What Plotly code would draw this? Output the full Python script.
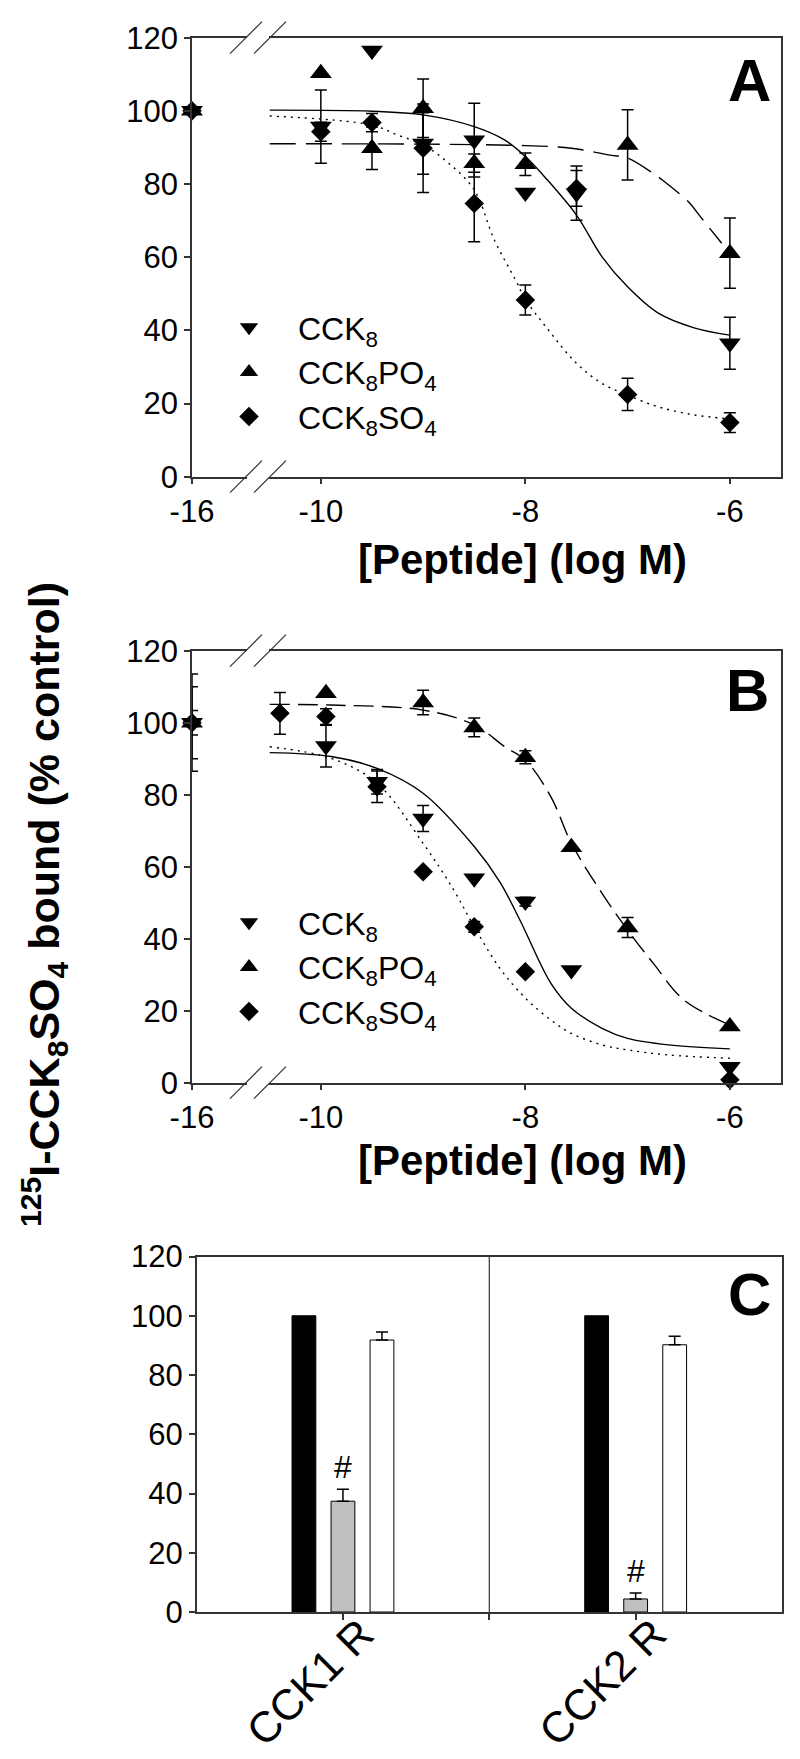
import plotly.graph_objects as go

# page is 800x1759; the browser's default 8px body margin offsets the figure
PAGE_W, PAGE_H = 800, 1759
OFF = 8
W, H = PAGE_W - OFF, PAGE_H - OFF

# ---------------- data ----------------
x_tick_values = [-16, -10, -8, -6]
x_tick_labels = ['-16', '-10', '-8', '-6']
y_ticks = [0, 20, 40, 60, 80, 100, 120]
series_names = ['CCK<sub>8</sub>', 'CCK<sub>8</sub>PO<sub>4</sub>', 'CCK<sub>8</sub>SO<sub>4</sub>']

# Panel A - measured points (log M, % control, SEM)
a_cck8_x = [-16, -10, -9.5, -9, -8.5, -8, -7.5, -6]
a_cck8_y = [100, 95.7, 116.5, 91.1, 92.0, 77.7, 77.5, 36.5]
a_cck8_e = [0, 10.0, 0, 8.4, 10.1, 0, 7.4, 7.1]
a_po4_x = [-16, -10, -9.5, -9, -8.5, -8, -7, -6]
a_po4_y = [100, 110.3, 89.8, 100.7, 85.7, 85.4, 90.7, 61.1]
a_po4_e = [0, 0, 5.8, 8.0, 2.5, 3.1, 9.6, 9.6]
a_so4_x = [-16, -10, -9.5, -9, -8.5, -8, -7.5, -7, -6]
a_so4_y = [100, 94.3, 96.8, 89.8, 74.7, 48.3, 78.8, 22.5, 14.8]
a_so4_e = [0, 2.6, 2.5, 12.1, 10.5, 4.1, 4.9, 4.4, 2.7]

# Panel A - fitted curves
a_fit_cck8_x = [-10.5, -9.5, -9.0, -8.5, -8.2, -8.0, -7.8, -7.5, -7.25, -7.0, -6.7, -6.35, -6.0]
a_fit_cck8_y = [100.2, 99.9, 98.9, 95.7, 92.0, 87.5, 81.6, 71.5, 60.1, 51.9, 44.7, 40.7, 38.7]
a_fit_po4_x = [-10.5, -9.0, -8.0, -7.55, -7.17, -7.0, -6.75, -6.66, -6.39, -6.3, -6.08]
a_fit_po4_y = [91.0, 90.9, 90.5, 89.8, 87.9, 87.1, 82.9, 81.1, 74.7, 71.5, 63.8]
a_fit_so4_x = [-10.5, -9.5, -9.25, -9.0, -8.75, -8.5, -8.3, -8.1, -8.0, -7.8, -7.5, -7.25, -7.0, -6.7, -6.35, -6.0]
a_fit_so4_y = [98.6, 96.1, 93.4, 90.7, 85.7, 78.4, 64.5, 54.0, 48.5, 41.0, 31.0, 25.5, 22.3, 19.1, 16.9, 15.8]

# Panel B - measured points
b_cck8_x = [-16, -9.95, -9.45, -9.0, -8.5, -8.0, -7.55, -6.0]
b_cck8_y = [100, 93.5, 83.6, 73.4, 56.8, 50.3, 31.3, 4.4]
b_cck8_e = [13.5, 5.8, 3.4, 3.6, 0, 1.2, 0, 0]
b_po4_x = [-16, -9.95, -9.0, -8.5, -8.0, -7.55, -7.0, -6.0]
b_po4_y = [100, 108.2, 105.6, 98.7, 90.4, 65.4, 43.1, 15.6]
b_po4_e = [10.0, 0, 3.4, 2.6, 1.8, 0, 2.8, 0]
b_so4_x = [-16, -10.4, -9.95, -9.45, -9.0, -8.5, -8.0, -6.0]
b_so4_y = [100, 102.6, 101.7, 82.2, 58.6, 43.3, 30.8, 0.8]
b_so4_e = [3.4, 5.8, 2.2, 4.4, 0, 1.5, 0, 0]

# Panel B - fitted curves
b_fit_cck8_x = [-10.5, -9.9, -9.45, -9.0, -8.5, -8.25, -8.05, -7.75, -7.55, -7.25, -7.0, -6.6, -6.0]
b_fit_cck8_y = [91.7, 90.6, 87.3, 80.4, 65.6, 55.8, 45.0, 27.6, 20.7, 15.1, 12.3, 10.5, 9.4]
b_fit_po4_x = [-10.5, -9.9, -9.0, -8.5, -8.2, -8.0, -7.75, -7.55, -7.25, -7.0, -6.75, -6.45, -6.0]
b_fit_po4_y = [105.1, 104.9, 103.5, 99.4, 93.3, 89.6, 79.4, 66.5, 52.6, 42.4, 33.2, 23.0, 16.0]
b_fit_so4_x = [-10.5, -9.9, -9.45, -9.0, -8.7, -8.5, -8.25, -8.0, -7.75, -7.55, -7.25, -7.0, -6.6, -6.0]
b_fit_so4_y = [93.3, 90.1, 83.2, 66.5, 53.5, 43.3, 31.8, 23.5, 17.4, 13.7, 10.5, 9.1, 7.7, 6.8]

# Panel C - bars
c_categories = ['CCK1 R', 'CCK2 R']
c_control = [100, 100]
c_cck8 = [37.4, 4.4]
c_cck8_e = [4.0, 2.0]
c_po4 = [91.8, 90.2]
c_po4_e = [2.7, 2.9]
c_marks = ['#', '#']

# ---------------- layout helpers ----------------
FONT_TICK = 'Liberation Sans Narrow, Arial Narrow, Liberation Sans, Arial, sans-serif'
FONT_MAIN = 'Liberation Sans, Arial, sans-serif'
AXC = '#333333'


def xp(px):
    # page pixel -> paper fraction
    return (px - OFF) / W


def yp(py):
    return 1 - (py - OFF) / H


XMIN, XMAX = -11.26, -5.50


def pos(v):
    # broken axis: the control point (-16) sits at the axis origin
    return XMIN if v <= -12 else v


def disp(xs):
    return [pos(v) for v in xs]


fig = go.Figure()

symbols = ['triangle-down', 'triangle-up', 'diamond']
sizes = [19, 19, 15]
dashes = ['solid', '26px,10px', '2px,5px']
dashes_b = ['solid', '20px,8px', '2px,5px']

panels = [
    ('x', 'y', 'legend',
     [(a_cck8_x, a_cck8_y, a_cck8_e), (a_po4_x, a_po4_y, a_po4_e), (a_so4_x, a_so4_y, a_so4_e)],
     [(a_fit_cck8_x, a_fit_cck8_y), (a_fit_po4_x, a_fit_po4_y), (a_fit_so4_x, a_fit_so4_y)], dashes),
    ('x2', 'y2', 'legend2',
     [(b_cck8_x, b_cck8_y, b_cck8_e), (b_po4_x, b_po4_y, b_po4_e), (b_so4_x, b_so4_y, b_so4_e)],
     [(b_fit_cck8_x, b_fit_cck8_y), (b_fit_po4_x, b_fit_po4_y), (b_fit_so4_x, b_fit_so4_y)], dashes_b),
]

for pi, (xa, ya, leg, pts, fits, dsh) in enumerate(panels):
    for i, (fx, fy) in enumerate(fits):
        fig.add_trace(go.Scatter(
            x=fx, y=fy, xaxis=xa, yaxis=ya, mode='lines',
            line=dict(color='black', width=1.4, dash=dsh[i], shape='spline', smoothing=1.0),
            showlegend=False, hoverinfo='skip'))
    for i, (px_, py_, pe) in enumerate(pts):
        fig.add_trace(go.Scatter(
            x=disp(px_), y=py_, xaxis=xa, yaxis=ya, mode='markers',
            marker=dict(symbol=symbols[i], size=sizes[i], color='black'),
            error_y=dict(type='data', array=pe, color='black', thickness=1.5, width=6),
            name=series_names[i], legend=leg, legendgroup=f'{leg}_{i}',
            cliponaxis=False))

# Panel C bars
bar_x = list(range(len(c_categories)))
fig.add_trace(go.Bar(x=bar_x, y=c_control, xaxis='x3', yaxis='y3',
                     marker=dict(color='black', line=dict(color='black', width=1)),
                     showlegend=False))
fig.add_trace(go.Bar(x=bar_x, y=c_cck8, xaxis='x3', yaxis='y3',
                     marker=dict(color='#c0c0c0', line=dict(color='black', width=1)),
                     error_y=dict(type='data', array=c_cck8_e, arrayminus=[0] * len(c_cck8), symmetric=False,
                                  color='black', thickness=1.5, width=6),
                     showlegend=False))
fig.add_trace(go.Bar(x=bar_x, y=c_po4, xaxis='x3', yaxis='y3',
                     marker=dict(color='white', line=dict(color='black', width=1)),
                     error_y=dict(type='data', array=c_po4_e, arrayminus=[0] * len(c_po4), symmetric=False,
                                  color='black', thickness=1.5, width=6),
                     showlegend=False))

tickfont = dict(family=FONT_TICK, size=31, color='black')


def xaxis_curve(domain, anchor):
    return dict(domain=domain, anchor=anchor, range=[XMIN, XMAX],
                tickmode='array', tickvals=disp(x_tick_values), ticktext=x_tick_labels,
                ticks='outside', ticklen=6, tickwidth=1.5, tickcolor=AXC,
                showline=True, linecolor=AXC, linewidth=1.5, mirror=True,
                showgrid=False, zeroline=False, tickfont=tickfont)


def yaxis_common(domain, anchor):
    return dict(domain=domain, anchor=anchor, range=[0, 120],
                tickmode='array', tickvals=y_ticks,
                ticks='outside', ticklen=6, tickwidth=1.5, tickcolor=AXC,
                showline=True, linecolor=AXC, linewidth=1.5, mirror=True,
                showgrid=False, zeroline=False, tickfont=tickfont)


A_X = [xp(192), xp(781)]
A_Y = [yp(476.7), yp(37.7)]
B_Y = [yp(1082.7), yp(650.7)]
C_X = [xp(196.6), xp(782)]
C_Y = [yp(1612), yp(1256.5)]

legend_common = dict(font=dict(family=FONT_MAIN, size=32, color='black'),
                     bgcolor='rgba(0,0,0,0)', borderwidth=0, itemwidth=88,
                     xanchor='left', yanchor='top', tracegroupgap=2,
                     traceorder='normal', itemsizing='trace')

fig.update_layout(
    width=W, height=H, margin=dict(l=0, r=0, t=0, b=0, autoexpand=False),
    paper_bgcolor='white', plot_bgcolor='white',
    barmode='group', bargap=0.6, bargroupgap=0.39,
    xaxis=xaxis_curve(A_X, 'y'),
    yaxis=yaxis_common(A_Y, 'x'),
    xaxis2=xaxis_curve(A_X, 'y2'),
    yaxis2=yaxis_common(B_Y, 'x2'),
    xaxis3=dict(domain=C_X, anchor='y3', range=[-0.5, len(c_categories) - 0.5],
                tickmode='array', tickvals=[0, 0.5, 1], ticktext=[c_categories[0], '', c_categories[1]],
                tickangle=-45, ticks='outside', ticklen=6, tickwidth=1.5, tickcolor=AXC,
                ticklabelstandoff=-28, ticklabelshift=18,
                showline=True, linecolor=AXC, linewidth=1.5, mirror=True,
                showgrid=False, zeroline=False,
                tickfont=dict(family=FONT_MAIN, size=43, color='black')),
    yaxis3=yaxis_common(C_Y, 'x3'),
    legend=dict(x=xp(200), y=yp(300), **legend_common),
    legend2=dict(x=xp(200), y=yp(895), **legend_common),
    showlegend=True,
)

shapes = []
# broken-axis marks
for (ytop, ybot) in [(37.7, 476.7), (650.7, 1082.7)]:
    for yl in (ytop, ybot):
        shapes.append(dict(type='rect', xref='paper', yref='paper', layer='above',
                           x0=xp(247), x1=xp(269), y0=yp(yl + 3), y1=yp(yl - 3),
                           fillcolor='white', line=dict(width=0)))
        for cx in (246, 270):
            shapes.append(dict(type='line', xref='paper', yref='paper', layer='above',
                               x0=xp(cx - 16), y0=yp(yl + 16), x1=xp(cx + 16), y1=yp(yl - 16),
                               line=dict(color=AXC, width=1.2)))
# panel C divider
shapes.append(dict(type='line', xref='x3', yref='y3', x0=0.5, x1=0.5, y0=0, y1=120,
                   line=dict(color=AXC, width=1.2)))
fig.update_layout(shapes=shapes)

ann = []
for label, (cx, cy) in zip(['A', 'B', 'C'], [(749, 80), (747, 690), (749, 1294)]):
    ann.append(dict(text=f'<b>{label}</b>', xref='paper', yref='paper', x=xp(cx), y=yp(cy),
                    xanchor='center', yanchor='middle', showarrow=False,
                    font=dict(family=FONT_MAIN, size=60, color='black')))
for cy in (560, 1160):
    ann.append(dict(text='<b>[Peptide] (log M)</b>', xref='paper', yref='paper', x=xp(522), y=yp(cy),
                    xanchor='center', yanchor='middle', showarrow=False,
                    font=dict(family=FONT_MAIN, size=42, color='black')))
ann.append(dict(text='<b><sup>125</sup>I-CCK<sub>8</sub>SO<sub>4</sub> bound (% control)</b>',
                xref='paper', yref='paper', x=xp(44), y=yp(905), textangle=-90,
                xanchor='center', yanchor='middle', showarrow=False,
                font=dict(family=FONT_MAIN, size=43, color='black')))
for i, m in enumerate(c_marks):
    ann.append(dict(text=m, xref='x3', yref='y3', x=bar_x[i], y=c_cck8[i] + c_cck8_e[i],
                    xanchor='center', yanchor='bottom', yshift=2, showarrow=False,
                    font=dict(family=FONT_MAIN, size=32, color='black')))
fig.update_layout(annotations=ann)

fig.write_html('out.html')
